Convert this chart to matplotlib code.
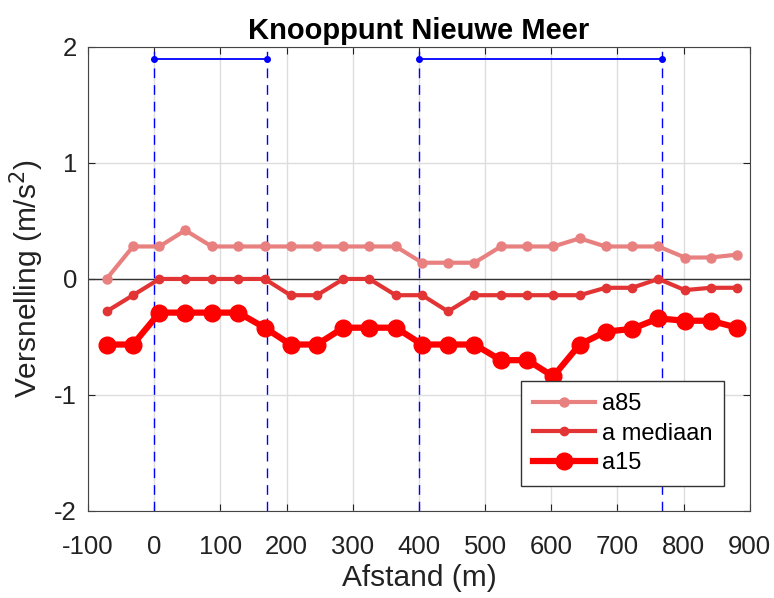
import matplotlib
matplotlib.use("Agg")
import matplotlib.pyplot as plt

plt.rcParams['font.family'] = ['Liberation Sans', 'DejaVu Sans']
plt.rcParams['axes.unicode_minus'] = False

# afstand langs het traject (m)
afstand = [-72, -32, 8, 47, 87, 127, 167, 206, 246, 286, 325, 365, 405,
           444, 484, 524, 564, 603, 643, 682, 722, 762, 802, 841, 881]

a85 = [0.0, 0.28, 0.28, 0.42, 0.28, 0.28, 0.28, 0.28, 0.28, 0.28, 0.28, 0.28, 0.14,
       0.14, 0.14, 0.28, 0.28, 0.28, 0.35, 0.28, 0.28, 0.28, 0.185, 0.185, 0.21]
a_mediaan = [-0.28, -0.14, 0.0, 0.0, 0.0, 0.0, 0.0, -0.14, -0.14, 0.0, 0.0, -0.14, -0.14,
             -0.28, -0.14, -0.14, -0.14, -0.14, -0.14, -0.076, -0.076, 0.0, -0.096, -0.076, -0.076]
a15 = [-0.565, -0.565, -0.29, -0.29, -0.29, -0.29, -0.42, -0.565, -0.565, -0.42, -0.42, -0.42, -0.565,
       -0.565, -0.565, -0.70, -0.70, -0.84, -0.565, -0.455, -0.43, -0.34, -0.36, -0.36, -0.42]

# grenzen van de wevingsvakken
vak1 = [0, 170]
vak2 = [400, 767]
vak_hoogte = 1.9

fig = plt.figure(figsize=(7.74, 5.98), dpi=100)
ax = fig.add_axes([0.1137, 0.1455, 0.855, 0.776])

ax.plot(afstand, a85, '-o', color='#E88080', linewidth=3, markersize=6.5, label='a85', zorder=3)
ax.plot(afstand, a_mediaan, '-o', color='#E23434', linewidth=3, markersize=6, label='a mediaan', zorder=4)
ax.plot(afstand, a15, '-o', color='#FF0000', linewidth=4.5, markersize=12, label='a15', zorder=5)

for vak in (vak1, vak2):
    for xv in vak:
        ax.axvline(xv, color='blue', linestyle=(0, (7, 5)), linewidth=1.0, zorder=2)
    ax.plot(vak, [vak_hoogte, vak_hoogte], '-o', color='blue', linewidth=1.3, markersize=4, zorder=2)

ax.axhline(0, color='#333333', linewidth=1.0, zorder=2)

ax.set_xlim(-100, 900)
ax.set_ylim(-2, 2)
ax.set_xticks(range(-100, 901, 100))
ax.set_yticks([-2, -1, 0, 1, 2])
ax.grid(True, color='#DDDDDD', linewidth=1.0, zorder=0)
ax.set_axisbelow(True)
ax.tick_params(direction='in', top=True, right=True, labelsize=18.5, colors='#222222', length=5)
ax.tick_params(axis='x', pad=17)
ax.tick_params(axis='y', pad=8)
for s in ax.spines.values():
    s.set_color('#444444')

ax.set_title('Knooppunt Nieuwe Meer', fontsize=21, fontweight='bold', pad=6)
ax.set_xlabel('Afstand (m)', fontsize=21.5, color='#222222', labelpad=4)
ax.set_ylabel('Versnelling (m/s$^2$)', fontsize=21.5, color='#222222', labelpad=6)

leg = ax.legend(loc='lower right', bbox_to_anchor=(0.961, 0.054), fontsize=17, fancybox=False,
                edgecolor='#333333', framealpha=1, handlelength=2.6, borderpad=0.5,
                labelspacing=0.32, handletextpad=0.3, borderaxespad=0)
leg.get_frame().set_linewidth(1.0)

fig.savefig('out.png', dpi=100)
